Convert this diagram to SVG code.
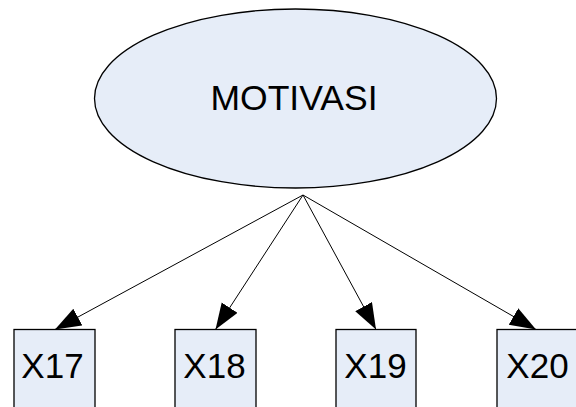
<svg xmlns="http://www.w3.org/2000/svg" width="576" height="407" viewBox="0 0 576 407">
<style>
.shape{fill:#E6EDF8;stroke:#000;stroke-width:1.3}
.lbl{font-family:"Liberation Sans",Arial,sans-serif;font-size:35px;fill:#000;text-anchor:middle}
.conn{stroke:#000;stroke-width:1;fill:none;marker-end:url(#ah)}
</style>
<defs>
<marker id="ah" markerUnits="userSpaceOnUse" markerWidth="27" markerHeight="20" refX="26" refY="9.5" orient="auto">
<path d="M0,0 L26,9.5 L0,19 z" fill="#000"/>
</marker>
</defs>
<rect width="576" height="407" fill="#fff"/>
<g id="motivasi">
<ellipse class="shape" cx="295.5" cy="98.5" rx="201" ry="89.5"/>
<text class="lbl" x="294" y="110" style="font-size:35.5px">MOTIVASI</text>
</g>
<g id="x17">
<rect class="shape" x="14" y="329.5" width="81" height="90"/>
<text class="lbl" x="52.5" y="378">X17</text>
</g>
<g id="x18">
<rect class="shape" x="175" y="329.5" width="81" height="90"/>
<text class="lbl" x="214.5" y="378">X18</text>
</g>
<g id="x19">
<rect class="shape" x="336" y="329.5" width="80" height="90"/>
<text class="lbl" x="375.5" y="378">X19</text>
</g>
<g id="x20">
<rect class="shape" x="497" y="329.5" width="81" height="90"/>
<text class="lbl" x="537.5" y="378">X20</text>
</g>
<g id="connectors">
<line class="conn" x1="303" y1="195" x2="55" y2="329.5"/>
<line class="conn" x1="303" y1="195" x2="215.5" y2="329.5"/>
<line class="conn" x1="303" y1="195" x2="376" y2="329.5"/>
<line class="conn" x1="303" y1="195" x2="536" y2="329.5"/>
</g>
</svg>
